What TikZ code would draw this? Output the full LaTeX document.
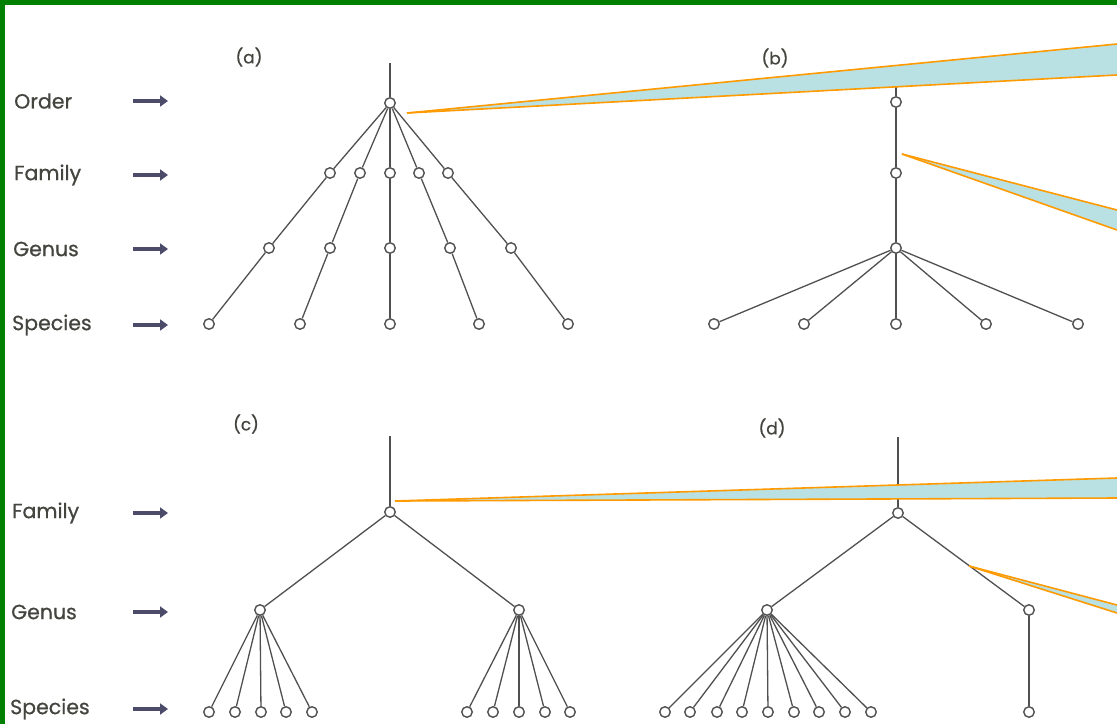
\documentclass[tikz,border=0pt]{standalone}
\usepackage{fontspec}
\setmainfont{Poppins}
\newfontfamily\labfont{Poppins}[FakeBold=0.6]
\usetikzlibrary{arrows.meta}
\definecolor{ink}{HTML}{505050}
\definecolor{txt}{HTML}{45453F}
\definecolor{arr}{HTML}{4C4C6A}
\definecolor{wfill}{HTML}{B9E1E4}
\definecolor{worange}{HTML}{FF9A00}
\definecolor{frame}{HTML}{008000}
\begin{document}
\begin{tikzpicture}[x=1pt,y=-1pt,
  tn/.style={circle,draw=ink,fill=white,line width=1.4pt,minimum size=10.5pt,inner sep=0pt},
  br/.style={draw=ink,line width=1.3pt},
  lab/.style={anchor=west,text=txt,font=\labfont\fontsize{20.5}{24}\selectfont,inner sep=0pt},
  tag/.style={text=txt,font=\labfont\fontsize{17}{20}\selectfont,inner sep=0pt},
  lvarrow/.style={draw=arr,line width=3.8pt,-{Triangle[length=8pt,width=11pt]}},
  wedge/.style={fill=wfill},
  wedgeline/.style={draw=worange,line width=1.6pt}]
\useasboundingbox (0,0) rectangle (1117,724);
\fill[white] (0,0) rectangle (1117,724);

% ---------- level labels ----------
\node[lab] (lOrder)   at (14,101) {Order};
\node[lab] (lFamA)    at (14,175) {Family};
\node[lab] (lGenA)    at (13,249) {Genus};
\node[lab] (lSpeA)    at (12,325) {Species};
\node[lab] (lFamC)    at (12,513) {Family};
\node[lab] (lGenC)    at (11,612) {Genus};
\node[lab] (lSpeC)    at (10,709) {Species};
\foreach \n/\y in {1/101,2/175,3/249,4/325,5/513,6/612,7/709}{
  \coordinate (as\n) at (133,\y);
  \coordinate (ae\n) at (168,\y);
  \draw[lvarrow] (as\n) -- (ae\n);
}

% ---------- panel tags ----------
\node[tag] (ta) at (249,57) {(a)};
\node[tag] (tb) at (775,58) {(b)};
\node[tag] (tc) at (246,424) {(c)};
\node[tag] (td) at (772,428) {(d)};

% ---------- tree (a) ----------
\coordinate (aTop) at (390,63);
\node[tn] (aR) at (390,103) {};
\node[tn] (aF1) at (330,173) {};
\node[tn] (aF2) at (360,173) {};
\node[tn] (aF3) at (390,173) {};
\node[tn] (aF4) at (419,173) {};
\node[tn] (aF5) at (448,173) {};
\node[tn] (aG1) at (269,248) {};
\node[tn] (aG2) at (330,248) {};
\node[tn] (aG3) at (390,248) {};
\node[tn] (aG4) at (450,248) {};
\node[tn] (aG5) at (511,248) {};
\node[tn] (aS1) at (209,324) {};
\node[tn] (aS2) at (300,324) {};
\node[tn] (aS3) at (390,324) {};
\node[tn] (aS4) at (479,324) {};
\node[tn] (aS5) at (568,324) {};
\draw[br] (aTop) -- (aR);
\foreach \i in {1,...,5}{
  \draw[br] (aR) -- (aF\i);
  \draw[br] (aF\i) -- (aG\i);
  \draw[br] (aG\i) -- (aS\i);
}

% ---------- tree (b) ----------
\coordinate (bTop) at (896,66);
\node[tn] (bR) at (896,102) {};
\node[tn] (bF) at (896,173) {};
\node[tn] (bG) at (896,248) {};
\node[tn] (bS1) at (714,324) {};
\node[tn] (bS2) at (804,324) {};
\node[tn] (bS3) at (896,324) {};
\node[tn] (bS4) at (986,324) {};
\node[tn] (bS5) at (1078,324) {};
\draw[br] (bTop) -- (bR);
\draw[br] (bR) -- (bF);
\draw[br] (bF) -- (bG);
\foreach \i in {1,...,5}{ \draw[br] (bG) -- (bS\i); }

% ---------- tree (c) ----------
\coordinate (cTop) at (390,436);
\node[tn] (cR) at (390,512) {};
\node[tn] (cG1) at (260,610) {};
\node[tn] (cG2) at (519,610) {};
\foreach \i/\x in {1/209,2/235,3/261,4/286,5/312}{ \node[tn] (cSa\i) at (\x,712) {}; }
\foreach \i/\x in {1/467,2/493,3/519,4/545,5/570}{ \node[tn] (cSb\i) at (\x,712) {}; }
\draw[br] (cTop) -- (cR);
\draw[br] (cR) -- (cG1);
\draw[br] (cR) -- (cG2);
\foreach \i in {1,...,5}{ \draw[br] (cG1) -- (cSa\i); \draw[br] (cG2) -- (cSb\i); }

% ---------- tree (d) ----------
\coordinate (dTop) at (898,437);
\node[tn] (dR) at (898,513) {};
\node[tn] (dG1) at (767,610) {};
\node[tn] (dG2) at (1029,610) {};
\foreach \i/\x in {1/665,2/690,3/717,4/742,5/768,6/794,7/819,8/845,9/871}{ \node[tn] (dSa\i) at (\x,712) {}; }
\node[tn] (dSb1) at (1029,712) {};
\draw[br] (dTop) -- (dR);
\draw[br] (dR) -- (dG1);
\draw[br] (dR) -- (dG2);
\foreach \i in {1,...,9}{ \draw[br] (dG1) -- (dSa\i); }
\draw[br] (dG2) -- (dSb1);

% ---------- callout wedges ----------
\coordinate (w1a) at (407,113);
\coordinate (w1u) at (1117,44);
\coordinate (w1l) at (1117,75);
\coordinate (w2a) at (902,154);
\coordinate (w2u) at (1117,210);
\coordinate (w2l) at (1117,230);
\coordinate (w3a) at (395,501);
\coordinate (w3u) at (1117,478);
\coordinate (w3l) at (1117,498);
\coordinate (w4a) at (969,566);
\coordinate (w4u) at (1117,605);
\coordinate (w4l) at (1117,613);
\foreach \w in {1,2,3,4}{
  \fill[wedge] (w\w a) -- (w\w u) -- (w\w l) -- cycle;
  \draw[wedgeline] (w\w a) -- (w\w u);
  \draw[wedgeline] (w\w a) -- (w\w l);
}

% ---------- frame ----------
\fill[frame] (0,0) rectangle (1117,5);
\fill[frame] (0,0) rectangle (5,724);
\end{tikzpicture}
\end{document}
